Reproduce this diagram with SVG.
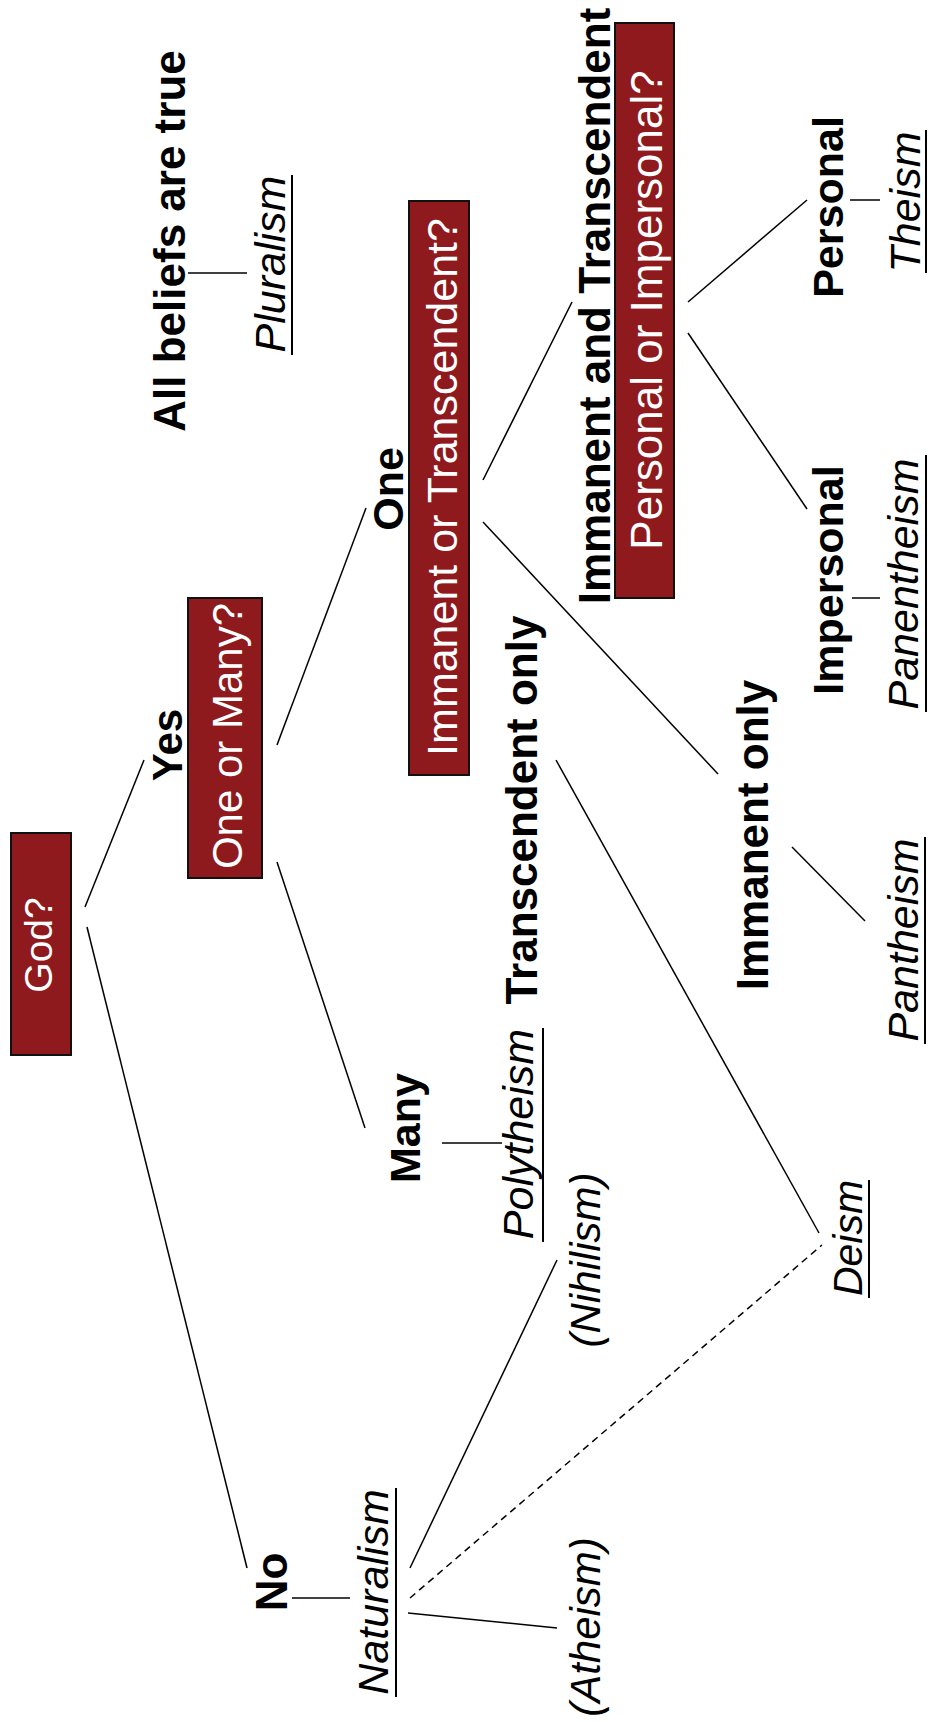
<svg xmlns="http://www.w3.org/2000/svg" width="928" height="1722" viewBox="0 0 928 1722">
<style>
text{font-family:"Liberation Sans",Arial,sans-serif;text-anchor:middle}
.q{fill:#fff;font-size:43px}
.b{fill:#000;font-size:44px;font-weight:bold}
.i{fill:#000;font-size:43px;font-style:italic}
.box{fill:#8F1A1D;stroke:#111;stroke-width:2}
.ln{stroke:#000;stroke-width:1.5;fill:none}
.ul{stroke:#000;stroke-width:2}
.dash{stroke:#000;stroke-width:1.5;stroke-dasharray:7 5;fill:none}
</style>
<rect width="928" height="1722" fill="#fff"/>
<g id="connectors">
<line class="ln" x1="85" y1="907" x2="144" y2="760"/>
<line class="ln" x1="87" y1="927" x2="247" y2="1568"/>
<line class="ln" x1="277" y1="745" x2="366" y2="508"/>
<line class="ln" x1="277" y1="862" x2="365" y2="1128"/>
<line class="ln" x1="483" y1="480" x2="572" y2="302"/>
<line class="ln" x1="483" y1="522" x2="718" y2="774"/>
<line class="ln" x1="688" y1="302" x2="807" y2="200"/>
<line class="ln" x1="688" y1="333" x2="807" y2="509"/>
<line class="ln" x1="850" y1="200" x2="880" y2="200"/>
<line class="ln" x1="852" y1="598" x2="880" y2="598"/>
<line class="ln" x1="792" y1="847" x2="865" y2="921"/>
<line class="ln" x1="556" y1="760" x2="819" y2="1233"/>
<line class="ln" x1="442" y1="1143" x2="502" y2="1143"/>
<line class="ln" x1="292" y1="1598" x2="350" y2="1598"/>
<line class="ln" x1="410" y1="1568" x2="557" y2="1260"/>
<line class="dash" x1="410" y1="1598" x2="822" y2="1245"/>
<line class="ln" x1="408" y1="1613" x2="557" y2="1628"/>
<line class="ln" x1="188" y1="273" x2="247" y2="273"/>
</g>
<g id="god">
<rect class="box" x="11" y="833" width="60" height="222"/>
<text class="q" style="font-size:39px" transform="translate(52,945) rotate(-90)">God?</text>
</g>
<g id="one-or-many">
<rect class="box" x="188" y="598" width="74" height="280"/>
<text class="q" style="font-size:42px" transform="translate(242,736) rotate(-90)">One or Many?</text>
</g>
<g id="imm-or-trans">
<rect class="box" x="409" y="201" width="60" height="574"/>
<text class="q" transform="translate(457,487) rotate(-90)">Immanent or Transcendent?</text>
</g>
<g id="pers-or-impers">
<rect class="box" x="615" y="23" width="59" height="575"/>
<text class="q" style="font-size:44px" transform="translate(662,310) rotate(-90)">Personal or Impersonal?</text>
</g>
<g id="all-beliefs">
<text class="b" transform="translate(185,241) rotate(-90)">All beliefs are true</text>
</g>
<g id="pluralism">
<text class="i" transform="translate(285,264) rotate(-90)">Pluralism</text>
<line class="ul" x1="292" y1="175" x2="292" y2="355"/>
</g>
<g id="yes">
<text class="b" style="font-size:42px" transform="translate(182,745) rotate(-90)">Yes</text>
</g>
<g id="no">
<text class="b" transform="translate(287,1582) rotate(-90)">No</text>
</g>
<g id="naturalism">
<text class="i" transform="translate(388,1592) rotate(-90)">Naturalism</text>
<line class="ul" x1="396" y1="1488" x2="396" y2="1697"/>
</g>
<g id="atheism">
<text class="i" style="font-size:42px" transform="translate(600,1627) rotate(-90)">(Atheism)</text>
</g>
<g id="nihilism">
<text class="i" style="font-size:42px" transform="translate(600,1260) rotate(-90)">(Nihilism)</text>
</g>
<g id="many">
<text class="b" style="font-size:43px" transform="translate(420,1128) rotate(-90)">Many</text>
</g>
<g id="polytheism">
<text class="i" transform="translate(533,1134) rotate(-90)">Polytheism</text>
<line class="ul" x1="543" y1="1028" x2="543" y2="1242"/>
</g>
<g id="one">
<text class="b" style="font-size:43px" transform="translate(403,489) rotate(-90)">One</text>
</g>
<g id="transcendent-only">
<text class="b" transform="translate(537,810) rotate(-90)">Transcendent only</text>
</g>
<g id="immanent-and-transcendent">
<text class="b" transform="translate(610,306) rotate(-90)">Immanent and Transcendent</text>
</g>
<g id="immanent-only">
<text class="b" transform="translate(768,835) rotate(-90)">Immanent only</text>
</g>
<g id="personal">
<text class="b" style="font-size:43px" transform="translate(843,207) rotate(-90)">Personal</text>
</g>
<g id="theism">
<text class="i" transform="translate(920,202) rotate(-90)">Theism</text>
<line class="ul" x1="926" y1="130" x2="926" y2="273"/>
</g>
<g id="impersonal">
<text class="b" style="font-size:43px" transform="translate(843,580) rotate(-90)">Impersonal</text>
</g>
<g id="panentheism">
<text class="i" transform="translate(918,584) rotate(-90)">Panentheism</text>
<line class="ul" x1="926" y1="455" x2="926" y2="712"/>
</g>
<g id="pantheism">
<text class="i" transform="translate(918,940) rotate(-90)">Pantheism</text>
<line class="ul" x1="925" y1="837" x2="925" y2="1044"/>
</g>
<g id="deism">
<text class="i" style="font-size:41px" transform="translate(862,1238) rotate(-90)">Deism</text>
<line class="ul" x1="869" y1="1180" x2="869" y2="1298"/>
</g>
</svg>
